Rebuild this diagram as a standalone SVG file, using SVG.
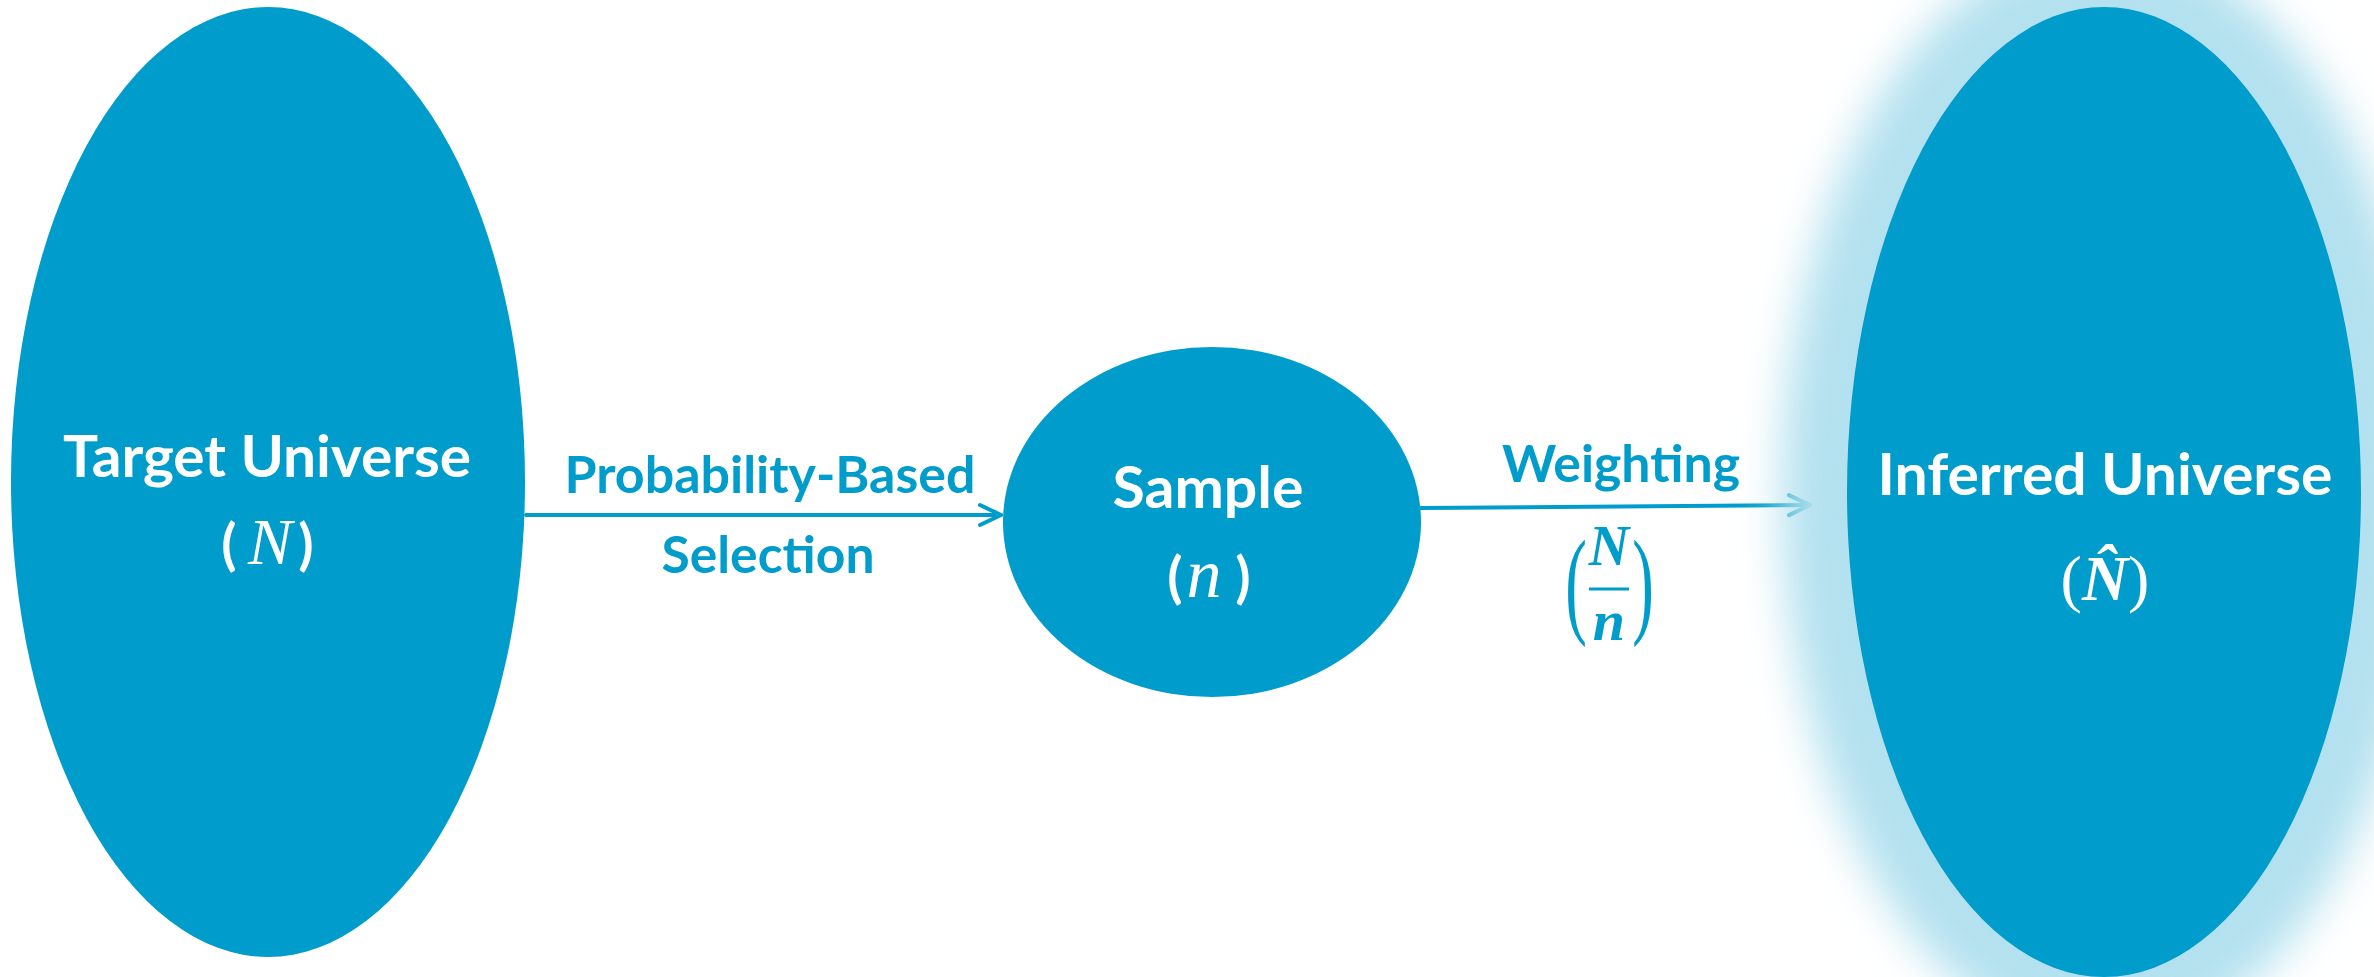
<svg xmlns="http://www.w3.org/2000/svg" width="2374" height="977" viewBox="0 0 2374 977">
  <defs>
    <style>
      .blob { fill: #009CCB; }
      .title { font-family: Lato, "Liberation Sans", sans-serif; font-weight: 700; fill: #FFFFFF; text-anchor: middle; }
      .edge-label { font-family: Lato, "Liberation Sans", sans-serif; font-weight: 700; fill: #009CCB; text-anchor: middle; }
      .paren { font-family: Lato, "Liberation Sans", sans-serif; font-weight: 700; fill: #FFFFFF; text-anchor: middle; }
      .math { font-family: "Liberation Serif", "DejaVu Serif", serif; font-style: italic; text-anchor: middle; }
      .math-paren { font-family: "Liberation Serif", "DejaVu Serif", serif; text-anchor: middle; }
      .edge { stroke: #009CCB; stroke-width: 4; stroke-linecap: round; fill: none; }
    </style>
    <marker id="chevron" viewBox="-28 -14 32 28" refX="0" refY="0" markerWidth="32" markerHeight="28" markerUnits="userSpaceOnUse" orient="auto">
      <path d="M -21 -10 L 0 0 L -21 10" fill="none" stroke="#009CCB" stroke-width="4" stroke-linecap="round" stroke-linejoin="round"/>
    </marker>
    <filter id="halo" x="-30%" y="-30%" width="160%" height="160%">
      <feGaussianBlur stdDeviation="22"/>
    </filter>
  </defs>

  <rect width="2374" height="977" fill="#FFFFFF"/>

  <!-- connectors and their labels -->
  <g id="connectors">
    <line class="edge" x1="526" y1="515" x2="1001" y2="515" marker-end="url(#chevron)"/>
    <text class="edge-label" x="770" y="493" font-size="52" textLength="411" lengthAdjust="spacingAndGlyphs">Probability-Based</text>
    <text class="edge-label" x="768" y="573" font-size="52" textLength="213" lengthAdjust="spacingAndGlyphs">Selection</text>

    <line class="edge" x1="1421" y1="508" x2="1810" y2="505" marker-end="url(#chevron)"/>
    <text class="edge-label" x="1621" y="482" font-size="52" textLength="238" lengthAdjust="spacingAndGlyphs">Weighting</text>
    <!-- weight N / n -->
    <text class="math-paren" x="1576" y="622" font-size="118" fill="#009CCB" transform="translate(1576 0) scale(0.55 1) translate(-1576 0)">(</text>
    <text class="math-paren" x="1643" y="622" font-size="118" fill="#009CCB" transform="translate(1643 0) scale(0.55 1) translate(-1643 0)">)</text>
    <text class="math" x="1609" y="565" font-size="56" font-weight="700" fill="#009CCB">N</text>
    <line x1="1589" y1="589" x2="1629" y2="589" stroke="#009CCB" stroke-width="3"/>
    <text class="math" x="1609" y="640" font-size="58" font-weight="700" fill="#009CCB">n</text>
  </g>

  <!-- target universe -->
  <g id="node-target">
    <ellipse class="blob" cx="268" cy="482" rx="257" ry="475"/>
    <text class="title" x="267" y="477" font-size="58" textLength="408" lengthAdjust="spacingAndGlyphs">Target Universe</text>
    <text class="paren" x="229" y="564" font-size="56">(</text>
    <text class="math" x="270" y="564" font-size="66" fill="#FFFFFF">N</text>
    <text class="paren" x="306" y="564" font-size="56">)</text>
  </g>

  <!-- sample -->
  <g id="node-sample">
    <ellipse class="blob" cx="1212" cy="522" rx="209" ry="175"/>
    <text class="title" x="1208" y="508" font-size="58" textLength="191" lengthAdjust="spacingAndGlyphs">Sample</text>
    <text class="paren" x="1175" y="597" font-size="56" font-weight="400">(</text>
    <text class="math" x="1204" y="597" font-size="70" fill="#FFFFFF">n</text>
    <text class="paren" x="1243" y="597" font-size="56" font-weight="400">)</text>
  </g>

  <!-- inferred universe, with soft halo -->
  <g id="node-inferred">
    <ellipse cx="2104" cy="492" rx="322" ry="550" fill="#B4E1EF" filter="url(#halo)"/>
    <ellipse class="blob" cx="2104" cy="492" rx="257" ry="485"/>
    <text class="title" x="2105" y="495" font-size="58" textLength="455" lengthAdjust="spacingAndGlyphs">Inferred Universe</text>
    <text class="math-paren" x="2105" y="600" font-size="64" fill="#FFFFFF">(<tspan font-style="italic" font-weight="700">N̂</tspan>)</text>
  </g>
</svg>
